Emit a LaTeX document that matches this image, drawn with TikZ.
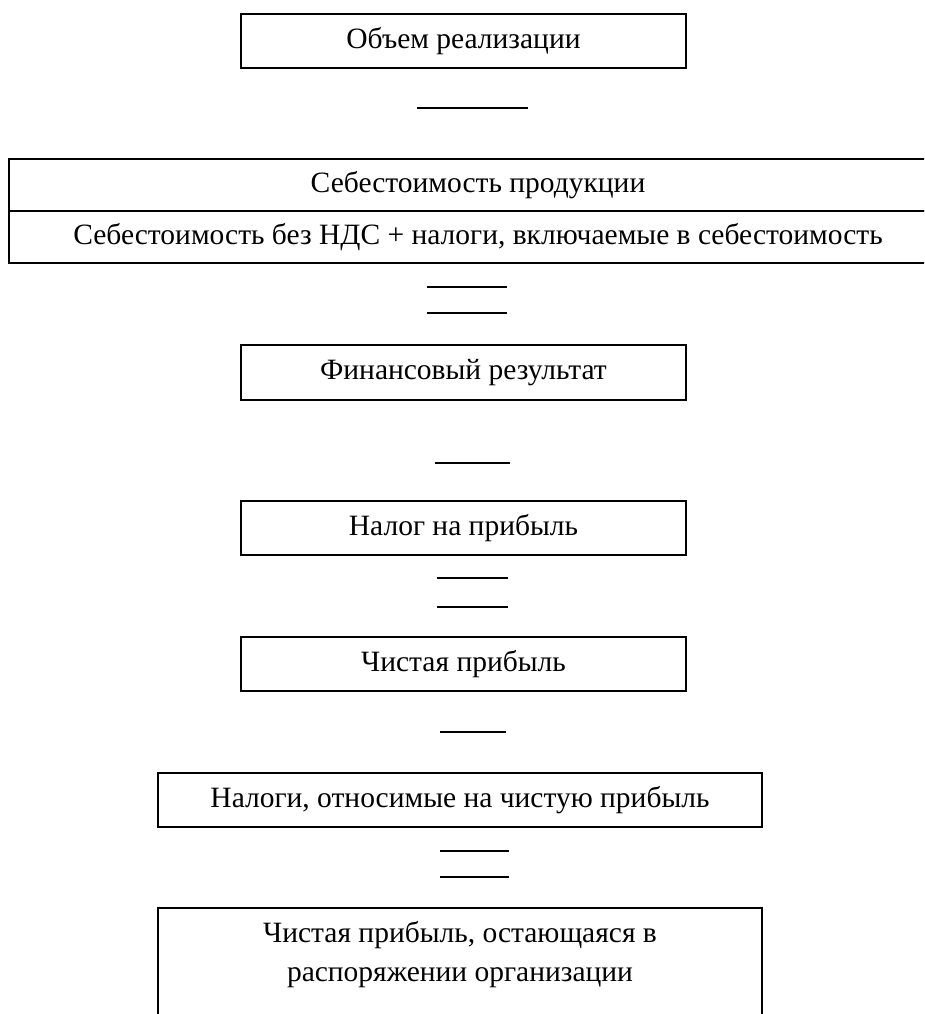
\documentclass[tikz,border=0pt]{standalone}
\usepackage{fontspec}
\setmainfont{Liberation Serif}
\begin{document}
\begin{tikzpicture}[x=1pt,y=-1pt,
  box/.style={draw, line width=1.6pt, inner sep=0pt, outer sep=0pt,
    font=\fontsize{29.5}{39}\selectfont, align=center},
  txt/.style={inner sep=0pt, outer sep=0pt, font=\fontsize{29.5}{39}\selectfont, align=center},
  minusline/.style={line width=1.8pt},
  eqline/.style={line width=1.1pt}]
\useasboundingbox (0,0) rectangle (924,1014);
\clip (0,0) rectangle (924,1014);
% boxes
\node[box, minimum width=445pt, minimum height=54pt] (b1) at (463.5,41) {Объем реализации};
\node[box, minimum width=938pt, minimum height=52pt] (b2a) at (478,185) {Себестоимость продукции};
\node[box, minimum width=938pt, minimum height=52pt, anchor=north] (b2b) at (b2a.south) {Себестоимость без НДС + налоги, включаемые в себестоимость};
\node[box, minimum width=445pt, minimum height=55pt] (b3) at (463.5,372.5) {Финансовый результат};
\node[box, minimum width=445pt, minimum height=54pt] (b4) at (463.5,528) {Налог на прибыль};
\node[box, minimum width=445pt, minimum height=54pt] (b5) at (463.5,664) {Чистая прибыль};
\node[box, minimum width=604pt, minimum height=54pt] (b6) at (460,800) {Налоги, относимые на чистую прибыль};
\node[box, minimum width=604pt, minimum height=150pt, anchor=north] (b7) at (460,908) {};
\node[txt] (b7t) at (460,955) {Чистая прибыль, остающаяся в\\распоряжении организации};
% operator signs
\coordinate (m1a) at (417,108); \coordinate (m1b) at (528,108);
\draw[minusline] (m1a) -- (m1b);
\coordinate (e1a) at (427,287); \coordinate (e1b) at (507,287);
\coordinate (e1c) at (427,313); \coordinate (e1d) at (507,313);
\draw[eqline] (e1a) -- (e1b);
\draw[eqline] (e1c) -- (e1d);
\coordinate (m2a) at (435,463); \coordinate (m2b) at (510,463);
\draw[minusline] (m2a) -- (m2b);
\coordinate (e2a) at (437,578); \coordinate (e2b) at (508,578);
\coordinate (e2c) at (437,607); \coordinate (e2d) at (508,607);
\draw[eqline] (e2a) -- (e2b);
\draw[eqline] (e2c) -- (e2d);
\coordinate (m3a) at (440,732); \coordinate (m3b) at (506,732);
\draw[eqline] (m3a) -- (m3b);
\coordinate (e3a) at (440,851); \coordinate (e3b) at (509,851);
\coordinate (e3c) at (440,877); \coordinate (e3d) at (509,877);
\draw[eqline] (e3a) -- (e3b);
\draw[eqline] (e3c) -- (e3d);
\end{tikzpicture}
\end{document}
